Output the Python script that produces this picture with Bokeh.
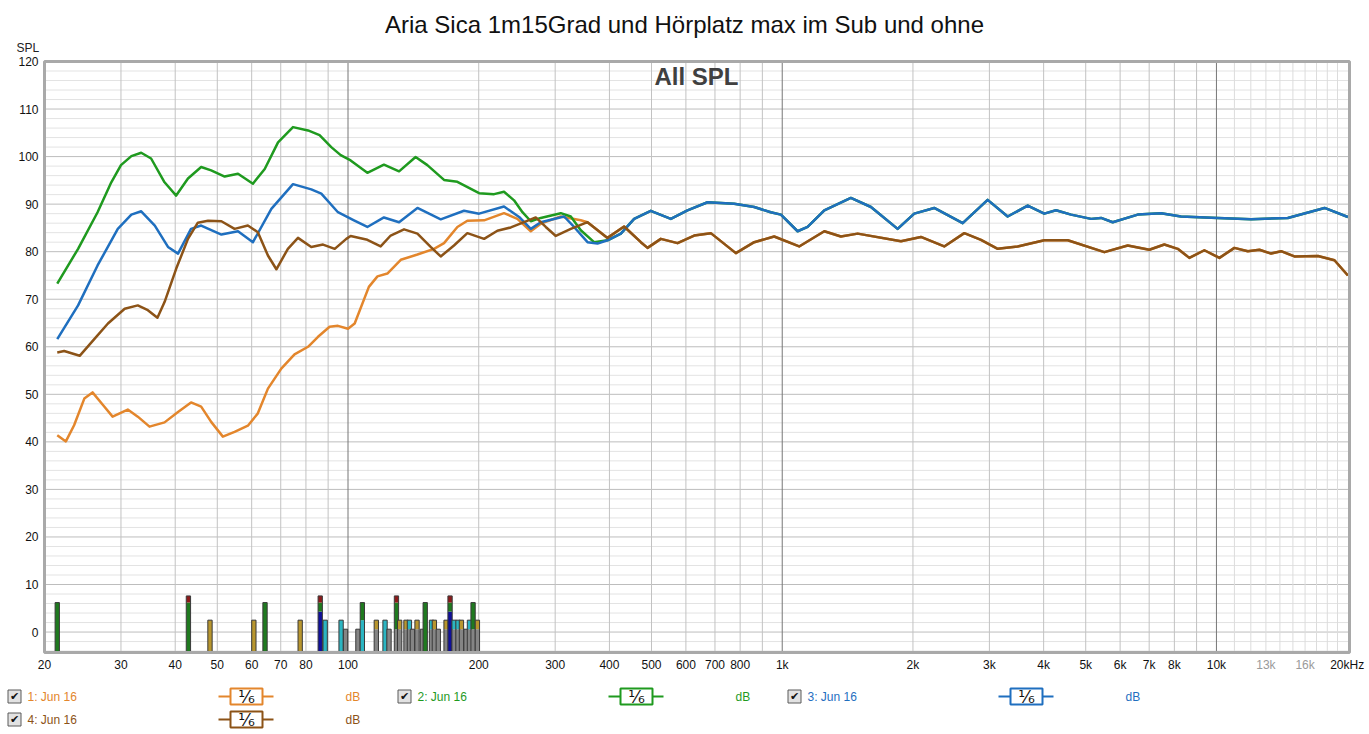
import math

from bokeh.plotting import figure
from bokeh.models import Range1d
from bokeh.core.properties import value
from bokeh.embed import file_html
from bokeh.resources import INLINE

FONT = "Liberation Sans"

title_text = "Aria Sica 1m15Grad und Hörplatz max im Sub und ohne"
inner_title = "All SPL"
y_unit = "SPL"

# --- measured curves (Hz, dB SPL) ---
f_orange_lf = [21.4, 22.4, 23.4, 24.7, 25.8, 27.3, 28.7, 31.1, 32.8, 34.9, 37.8, 40.6, 43.5, 45.9,
               48.4, 51.5, 54.8, 58.8, 62.0, 65.4, 70.2, 75.3, 80.9, 85.3, 90.7, 94.8, 100, 103.6,
               111.7, 116.9, 123.2, 132.3, 144.5, 157.8, 166.4, 178.6, 188.3, 205.8, 228.7, 245.5,
               263.6, 277.9, 309.0, 343.6]
spl_orange_lf = [41.4, 40.1, 43.5, 49.1, 50.4, 47.7, 45.3, 46.8, 45.3, 43.2, 44.1, 46.3, 48.3, 47.4,
                 44.2, 41.1, 42.1, 43.4, 46.0, 51.2, 55.4, 58.4, 60.0, 62.1, 64.2, 64.4, 63.8, 64.9,
                 72.6, 74.8, 75.4, 78.3, 79.4, 80.6, 81.8, 85.2, 86.5, 86.6, 88.1, 86.9,
                 84.3, 85.9, 87.4, 86.6]

f_green_lf = [21.4, 23.9, 26.5, 28.5, 30.0, 31.7, 33.4, 35.2, 37.8, 40.2, 42.8, 45.9, 48.4, 52.0,
              55.8, 60.4, 64.3, 69.0, 74.7, 80.9, 86.0, 91.5, 96.2, 101.4, 110.8, 121.0, 131.1,
              143.1, 152.3, 166.4, 178.6, 200.4, 217, 228.7, 241.2, 252.2, 263.6, 277.9, 309,
              325.9, 343.6, 368.7]
spl_green_lf = [73.3, 80.6, 88.3, 94.6, 98.2, 100.1, 100.8, 99.6, 94.6, 91.8, 95.4, 97.8, 97.1, 95.8,
                96.4, 94.3, 97.4, 103.0, 106.2, 105.5, 104.5, 102.0, 100.3, 99.2, 96.6, 98.3, 96.9,
                99.9, 98.2, 95.1, 94.7, 92.3, 92.1, 92.6, 90.8, 88.3, 86.4, 87.1, 88.1,
                87.4, 84.5, 82.0]

f_blue_lf = [21.4, 23.9, 26.5, 29.5, 31.7, 33.4, 35.9, 38.5, 40.6, 43.5, 45.9, 51.1, 55.8, 60.4,
             66.6, 74.7, 82.3, 86.8, 94.8, 103.2, 110.8, 121.0, 131.1, 144.5, 163.5, 185.0, 200.4,
             228.7, 247.8, 263.6, 277.9, 314.5, 331.6, 356.1, 375.4]
spl_blue_lf = [61.6, 68.7, 77.1, 84.8, 87.8, 88.5, 85.5, 81.0, 79.6, 84.8, 85.5, 83.6, 84.3, 82.0,
               89.0, 94.2, 93.1, 92.2, 88.3, 86.6, 85.2, 87.2, 86.2, 89.2, 86.8, 88.6, 88.0,
               89.5, 87.3, 84.8, 86.2, 87.4, 85.2, 82.0, 81.7]

# green and blue coincide above ~400 Hz
f_top_hf = [396, 425, 456, 498, 554, 605, 673, 775, 862, 941, 993, 1085, 1144, 1250, 1439, 1601,
            1844, 2014, 2239, 2604, 2972, 3305, 3676, 4013, 4271, 4626, 5143, 5424, 5769, 6588,
            7455, 8288, 10072, 12020, 14600, 17740, 20080]
spl_top_hf = [82.4, 83.8, 86.9, 88.6, 86.9, 88.7, 90.4, 90.1, 89.4, 88.3, 87.8, 84.3, 85.2, 88.7, 91.3, 89.4,
              84.8, 88.0, 89.2, 86.0, 90.9, 87.4, 89.7, 88.0, 88.7, 87.8, 86.9, 87.1, 86.2, 87.8,
              88.1, 87.4, 87.1, 86.8, 87.1, 89.2, 87.3]

f_brown_lf = [21.4, 22.2, 24.1, 26.1, 28.0, 30.6, 32.8, 34.6, 36.4, 37.8, 40.2, 42.8, 45.1, 47.6,
              51.1, 54.8, 58.8, 62.0, 65.4, 68.4, 72.7, 76.7, 82.3, 87.6, 93.2, 99.1, 101.4, 110.8,
              118.9, 125.4, 134.6, 144.5, 155.0, 163.5, 175.4, 188.3, 205.8, 220.8, 237.1, 254.4,
              270.6, 285.4, 301.0, 325.9]
spl_brown_lf = [58.8, 59.1, 58.1, 61.7, 64.9, 68.0, 68.7, 67.7, 66.1, 69.4, 76.4, 82.7, 86.1, 86.5,
                86.4, 84.8, 85.5, 84.1, 79.2, 76.3, 80.6, 82.9, 81.0, 81.5, 80.6, 82.7, 83.3, 82.5,
                81.1, 83.4, 84.7, 83.8, 81.0, 79.0, 81.3, 83.9, 82.7, 84.4, 85.1, 86.2,
                87.2, 85.2, 83.3, 84.8]

# orange and brown coincide above ~350 Hz
f_low_hf = [356.1, 395.9, 432.3, 472.5, 489.6, 525.3, 574, 626.9, 684.8, 782, 862, 958.3, 1094,
            1250, 1365, 1492, 1877, 2086, 2361, 2626, 2869, 3135, 3485, 4013, 4546, 5520, 6247,
            7005, 7586, 8145, 8661, 9380, 10160, 11000, 11810, 12560, 13360, 14090, 15120, 17130,
            18700, 20080]
spl_low_hf = [86.2, 82.9, 85.3, 82.0, 80.8, 82.7, 81.8, 83.4, 83.9, 79.7, 82.0, 83.2, 81.1,
              84.3, 83.2, 83.8, 82.2, 83.1, 81.1, 83.9, 82.5, 80.6, 81.1, 82.4, 82.4, 79.9, 81.3,
              80.4, 81.5, 80.6, 78.7, 80.3, 78.7, 80.8, 80.1, 80.4, 79.6, 80.1, 79.0, 79.1,
              78.2, 75.0]

series_names = ["1: Jun 16", "2: Jun 16", "3: Jun 16", "4: Jun 16"]
series_colors = ["#e3862c", "#1f9a1f", "#1f6fbf", "#8c5317"]
legend_col = [0, 1, 2, 0]
legend_row = [0, 0, 0, 1]
smoothing = "¹⁄₆"
unit = "dB"

# --- marker bars at the bottom ---
bar_freqs = [21.4, 42.9, 48.1, 60.7, 64.4, 77.6, 86.3, 88.6, 96.4, 98.7, 105.4, 107.9, 116.2, 121.7,
             124.3, 129.3, 131.5, 136, 138.5, 140.7, 144.2, 148.4, 150.6, 155.7, 158.1, 161.4,
             168.2, 171.8, 175.5, 179.2, 182.5, 187, 190.4, 194.1, 198.6]
bar_stacks = [["green"], ["green", "red"], ["gold"], ["gold"], ["green"], ["gold"],
              ["blue", "green", "red"], ["cyan"], ["cyan"], ["gray"], ["gray"], ["cyan", "green"],
              ["gray", "gold"], ["cyan"], ["gray"], ["gray", "green", "red"], ["gray", "gold"],
              ["gray", "gold"], ["gray", "cyan"], ["gray"], ["gray", "gold"], ["gray"], ["green"],
              ["gray", "cyan"], ["gray", "gold"], ["gray"], ["gray", "gold"],
              ["blue", "green", "red"], ["gray", "cyan"], ["gray", "cyan"], ["gray", "gold"],
              ["gray"], ["gray", "cyan"], ["gray", "green"], ["gray", "gold"]]
bar_levels = {"gray": 0.6, "gold": 2.5, "cyan": 2.5, "blue": 4.3, "green": 6.2, "red": 7.6}
bar_colors = {"gray": "#858585", "gold": "#b8962e", "cyan": "#2bb5c2", "blue": "#10109a",
              "green": "#1f7a1f", "red": "#8b1a1a"}

x_ticks = [20, 30, 40, 50, 60, 70, 80, 100, 200, 300, 400, 500, 600, 700, 800, 1000, 2000, 3000,
           4000, 5000, 6000, 7000, 8000, 10000, 20000]
x_tick_labels = ["20", "30", "40", "50", "60", "70", "80", "100", "200", "300", "400", "500", "600",
                 "700", "800", "1k", "2k", "3k", "4k", "5k", "6k", "7k", "8k", "10k", "20kHz"]
x_gray_ticks = [13000, 16000]
x_gray_labels = ["13k", "16k"]
x_grid = [30, 40, 50, 60, 70, 80, 90, 200, 300, 400, 500, 600, 700, 800, 900,
          2000, 3000, 4000, 5000, 6000, 7000, 8000, 9000]
x_grid_fine = [11000, 12000, 13000, 14000, 15000, 16000, 17000, 18000, 19000]
x_grid_dark = [100, 1000, 10000]
y_ticks = list(range(0, 121, 10))
y_minor = [v for v in range(-4, 121, 2) if v % 10 != 0]

# ---- layout (screen pixels of the 1369x734 page) ----
W, H = 1369, 734
FL, FR, FT, FB = 44, 1349, 61, 652          # chart frame edges
F_LO, F_HI = 20, 20250                      # frequency range of the frame
DB_LO, DB_HI = -4.3, 120                    # level range of the frame

px_per_dec = (FR - FL) / math.log10(F_HI / F_LO)
px_per_db = (FB - FT) / (DB_HI - DB_LO)


def fx(px):
    return F_LO * 10 ** ((px - FL) / px_per_dec)


def dby(py):
    return DB_LO + (FB - py) / px_per_db


p = figure(width=W, height=H, x_axis_type="log",
           x_range=Range1d(fx(0), fx(W)), y_range=Range1d(dby(H), dby(0)),
           x_axis_location=None, y_axis_location=None, min_border=0,
           toolbar_location=None, output_backend="svg")
p.grid.visible = False
p.outline_line_color = None
p.background_fill_color = "white"

# grid
p.segment(x0=F_LO, x1=F_HI, y0=y_minor, y1=y_minor, line_color="#e3e3e3", line_width=1)
p.segment(x0=F_LO, x1=F_HI, y0=y_ticks, y1=y_ticks, line_color="#bdbdbd", line_width=1)
p.segment(x0=x_grid_fine, x1=x_grid_fine, y0=DB_LO, y1=DB_HI, line_color="#dcdcdc", line_width=1)
p.segment(x0=x_grid, x1=x_grid, y0=DB_LO, y1=DB_HI, line_color="#c2c2c2", line_width=1)
p.segment(x0=x_grid_dark, x1=x_grid_dark, y0=DB_LO, y1=DB_HI, line_color="#777777", line_width=1)

# bars
half = 1.0115
for f, stack in zip(bar_freqs, bar_stacks):
    bottom = DB_LO
    for c in stack:
        p.quad(left=[f / half], right=[f * half], bottom=[bottom], top=[bar_levels[c]],
               fill_color=bar_colors[c], line_color=None)
        bottom = bar_levels[c]
    p.quad(left=[f / half], right=[f * half], bottom=[DB_LO], top=[bottom],
           fill_color=None, line_color="#3a3a3a", line_width=1)

# curves
p.line(f_orange_lf + f_low_hf, spl_orange_lf + spl_low_hf, line_color=series_colors[0],
       line_width=2.5, line_join="round")
p.line(f_green_lf + f_top_hf, spl_green_lf + spl_top_hf, line_color=series_colors[1],
       line_width=2.5, line_join="round")
p.line(f_blue_lf + f_top_hf, spl_blue_lf + spl_top_hf, line_color=series_colors[2],
       line_width=2.5, line_join="round")
p.line(f_brown_lf + f_low_hf, spl_brown_lf + spl_low_hf, line_color=series_colors[3],
       line_width=2.5, line_join="round")

# frame
p.quad(left=[F_LO], right=[F_HI], bottom=[DB_LO], top=[DB_HI], fill_color=None,
       line_color="#a9a9a9", line_width=3)

# axis labels
p.text(x=fx(38), y=y_ticks, text=[str(v) for v in y_ticks], text_align="right",
       text_baseline="middle", text_font=value(FONT), text_font_size="12px", text_color="#111111")
p.text(x=x_ticks, y=dby(664), text=x_tick_labels, text_align="center", text_baseline="middle",
       text_font=value(FONT), text_font_size="12px", text_color="#111111")
p.text(x=x_gray_ticks, y=dby(664), text=x_gray_labels, text_align="center", text_baseline="middle",
       text_font=value(FONT), text_font_size="12px", text_color="#9a9a9a")
p.text(x=[fx(16)], y=[dby(47)], text=[y_unit], text_align="left", text_baseline="middle",
       text_font=value(FONT), text_font_size="12px", text_color="#222222")

# titles
p.text(x=[fx(684)], y=[dby(24)], text=[title_text], text_align="center", text_baseline="middle",
       text_font=value(FONT), text_font_size="24px", text_color="#111111")
p.text(x=[fx(696)], y=[dby(76)], text=[inner_title], text_align="center", text_baseline="middle",
       text_font=value(FONT), text_font_size="24px", text_font_style="bold", text_color="#404040")

# legend
col_x = [0, 390, 780]
row_y = [696, 719]
for name, c, ci, ri in zip(series_names, series_colors, legend_col, legend_row):
    x0 = col_x[ci]
    y = dby(row_y[ri])
    p.rect(x=[fx(x0 + 14)], y=[y], width=13, height=13, width_units="screen", height_units="screen",
           fill_color="#e2e2e2", line_color="#5a5a5a")
    p.text(x=[fx(x0 + 14)], y=[y], text=["✔"], text_align="center", text_baseline="middle",
           text_font=value("DejaVu Sans"), text_font_size="11px", text_color="#111111")
    p.text(x=[fx(x0 + 27)], y=[y], text=[name], text_align="left", text_baseline="middle",
           text_font=value(FONT), text_font_size="12px", text_color=c)
    p.segment(x0=[fx(x0 + 218)], y0=[y], x1=[fx(x0 + 273)], y1=[y], line_color=c, line_width=2)
    p.rect(x=[fx(x0 + 246)], y=[y], width=32, height=16, width_units="screen", height_units="screen",
           fill_color="white", line_color=c, line_width=2)
    p.text(x=[fx(x0 + 246)], y=[y], text=[smoothing], text_align="center", text_baseline="middle",
           text_font=value("DejaVu Sans"), text_font_size="17px", text_color="#111111")
    p.text(x=[fx(x0 + 345)], y=[y], text=[unit], text_align="left", text_baseline="middle",
           text_font=value(FONT), text_font_size="12px", text_color=c)

open("out.html", "w").write(file_html(p, INLINE))
